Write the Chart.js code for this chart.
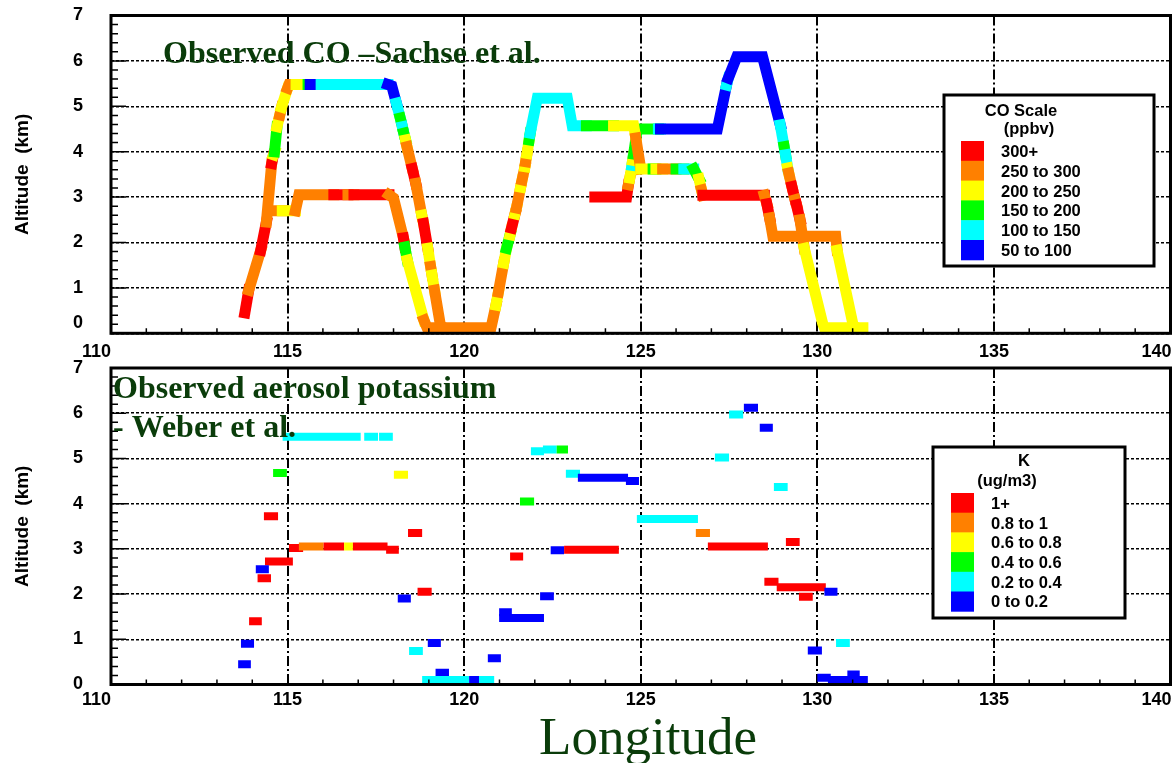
<!DOCTYPE html>
<html>
<head>
<meta charset="utf-8">
<script src="https://cdn.jsdelivr.net/npm/chart.js@4.4.1/dist/chart.umd.min.js"></script>
<style>
  html, body { margin: 0; padding: 0; background: #fff; }
  #wrap { position: relative; width: 1172px; height: 763px; }
  canvas { position: absolute; left: 0; }
</style>
</head>
<body>
<div id="wrap">
  <canvas id="top" width="1172" height="360" style="top:0"></canvas>
  <canvas id="bottom" width="1172" height="403" style="top:360px"></canvas>
</div>
<script>
// colour classes: 0 lowest ... 5 highest
const classColors = ['#0000ff', '#00ffff', '#00ff00', '#ffff00', '#ff8000', '#ff0000'];
const coLegend = ['300+', '250 to 300', '200 to 250', '150 to 200', '100 to 150', '50 to 100'];
const kLegend = ['1+', '0.8 to 1', '0.6 to 0.8', '0.4 to 0.6', '0.2 to 0.4', '0 to 0.2'];
const xTicks = [110, 115, 120, 125, 130, 135, 140];
const yTicks = [0, 1, 2, 3, 4, 5, 6, 7];

// CO flight track, leg 1 (class = colour of segment starting at that vertex)
const leg1Lon = [113.79, 113.90, 114.24, 114.40, 114.55, 114.60, 114.63, 114.70, 114.78, 114.83, 115.00, 115.04,
  115.24, 115.58, 115.64, 115.95, 117.84, 117.95, 118.08, 118.19, 118.25, 118.29, 118.34, 118.38, 118.53, 118.63,
  118.80, 118.85, 118.97, 119.05, 119.09, 119.16, 119.34, 120.76, 120.90, 120.97, 121.12, 121.20, 121.30, 121.34,
  121.44, 121.48, 121.60, 121.64, 121.72, 121.74, 121.78, 121.84, 121.87, 122.07, 122.92, 123.06, 123.46, 124.23,
  124.80, 124.86, 125.00, 125.35, 125.43, 125.62, 126.00, 126.22, 126.50, 126.65, 126.72, 126.76, 128.50, 128.57,
  128.65, 128.74, 130.52, 130.56, 131.03, 131.29];
const leg1Alt = [0.45, 0.95, 1.83, 2.45, 3.74, 3.93, 4.00, 4.55, 4.81, 4.98, 5.40, 5.48,
  5.48, 5.48, 5.48, 5.48, 5.48, 5.45, 5.07, 4.74, 4.55, 4.41, 4.26, 4.11, 3.63, 3.30,
  2.60, 2.42, 1.87, 1.47, 1.28, 0.95, 0.12, 0.12, 0.62, 0.91, 1.55, 1.87, 2.17, 2.32,
  2.63, 2.76, 3.22, 3.38, 3.67, 3.78, 3.96, 4.26, 4.41, 5.18, 5.18, 4.57, 4.57, 4.57,
  4.57, 4.30, 3.62, 3.62, 3.62, 3.62, 3.62, 3.62, 3.62, 3.40, 3.16, 3.04, 3.04, 2.85,
  2.54, 2.14, 2.14, 1.83, 0.12, 0.12];
const leg1Co = [5, 4, 5, 4, 5, 3, 2, 3, 4, 3, 4, 4,
  3, 2, 0, 1, 0, 0, 1, 2, 1, 2, 3, 4, 5, 4,
  3, 5, 3, 4, 3, 4, 4, 4, 3, 4, 3, 2, 3, 5,
  3, 4, 3, 4, 3, 4, 3, 2, 1, 1, 1, 1, 2, 3,
  3, 4, 3, 2, 3, 4, 2, 1, 2, 3, 4, 5, 4, 5,
  4, 4, 4, 3, 3, 3];

// leg 2: 2.7 / 3.05 km level and descent to the surface
const leg2Lon = [114.50, 114.85, 115.22, 115.32, 116.31, 116.71, 116.88, 117.87, 118.00, 118.28, 118.32, 118.39, 118.86, 118.95, 119.34];
const leg2Alt = [2.70, 2.70, 2.70, 3.05, 3.05, 3.05, 3.05, 3.05, 2.98, 2.10, 1.90, 1.61, 0.29, 0.12, 0.12];
const leg2Co = [4, 3, 4, 4, 5, 4, 5, 4, 4, 5, 2, 3, 4, 4, 4];

// leg 3: 3 km level, 4.5 km level, climb to 6.1 km and descent
const leg3Lon = [123.70, 124.60, 124.65, 124.69, 124.75, 124.77, 124.80, 124.90, 125.50, 125.56, 127.17, 127.43, 127.48,
  127.72, 128.45, 128.95, 129.06, 129.10, 129.16, 129.19, 129.28, 129.37, 129.41, 129.51, 129.63, 130.15, 130.20, 131.03];
const leg3Alt = [3.00, 3.00, 3.27, 3.42, 3.70, 3.81, 3.95, 4.50, 4.50, 4.50, 4.50, 5.47, 5.62,
  6.09, 6.09, 4.59, 4.11, 3.93, 3.64, 3.53, 3.23, 2.94, 2.83, 2.50, 1.87, 0.22, 0.12, 0.12];
const leg3Co = [5, 5, 4, 3, 1, 3, 2, 2, 1, 0, 0, 1, 0,
  0, 0, 1, 2, 1, 3, 4, 5, 4, 5, 4, 3, 3, 3, 3];

// aerosol potassium samples: longitude start / end, altitude, class
const kLon0 = [114.86, 117.17, 117.59, 114.59, 118.01, 114.33, 118.41, 115.04, 115.32, 116.02, 116.60, 116.85, 117.79,
  114.36, 114.10, 114.15, 118.68, 118.12, 113.91, 113.68, 113.60, 118.97, 118.44, 119.19, 118.81, 120.14, 120.42,
  120.67, 120.99, 120.99, 122.15, 121.89, 122.23, 122.62, 122.88, 123.22, 124.58, 121.58, 124.89, 126.56, 126.90,
  129.11, 121.30, 122.45, 122.83, 127.50, 127.92, 128.37, 127.10, 128.77, 128.50, 128.85, 129.48, 130.20, 130.53,
  129.73, 130.00, 130.30, 130.85];
const kLon1 = [117.07, 117.56, 117.98, 114.98, 118.41, 114.73, 118.81, 115.44, 116.02, 116.60, 116.85, 117.83, 118.15,
  115.15, 114.47, 114.53, 119.08, 118.49, 114.27, 114.05, 113.96, 119.34, 118.83, 119.57, 120.14, 120.42, 120.85,
  121.04, 121.35, 122.26, 122.54, 122.26, 122.62, 122.94, 123.28, 124.64, 124.95, 121.98, 126.62, 126.96, 128.60,
  129.50, 121.67, 122.83, 124.38, 127.90, 128.32, 128.74, 127.50, 129.16, 128.90, 130.24, 129.87, 130.57, 130.92,
  130.13, 130.38, 131.43, 131.20];
const kAlt = [5.48, 5.48, 5.48, 4.68, 4.64, 3.72, 3.35, 3.02, 3.05, 3.05, 3.05, 3.05, 2.98,
  2.72, 2.55, 2.35, 2.05, 1.90, 1.40, 0.90, 0.45, 0.92, 0.74, 0.26, 0.10, 0.10, 0.10,
  0.58, 1.60, 1.47, 1.95, 5.16, 5.20, 5.20, 4.66, 4.57, 4.50, 4.05, 3.66, 3.35, 3.05,
  3.15, 2.83, 2.97, 2.98, 5.97, 6.12, 5.68, 5.02, 4.37, 2.27, 2.15, 1.94, 2.05, 0.92,
  0.75, 0.15, 0.10, 0.22];
const kCls = [1, 1, 1, 2, 3, 5, 5, 5, 4, 5, 3, 5, 5,
  5, 0, 5, 5, 0, 5, 0, 0, 0, 1, 0, 1, 0, 1,
  0, 0, 0, 0, 1, 1, 2, 1, 0, 0, 2, 1, 4, 5,
  5, 5, 0, 5, 1, 0, 0, 1, 1, 5, 5, 5, 0, 1,
  0, 0, 0, 0];

const titleGreen = '#0a3c0a';
const sansBold = (s) => 'bold ' + s + 'px "Liberation Sans", Arial, sans-serif';
const serifBold = (s) => 'bold ' + s + 'px "Liberation Serif", "Times New Roman", serif';

function legDataset(lons, alts, cls) {
  return {
    data: lons.map((x, i) => ({ x: x, y: alts[i] })),
    borderColor: classColors[cls[0]],
    borderWidth: 11,
    borderCapStyle: 'square',
    borderJoinStyle: 'miter',
    pointRadius: 0,
    tension: 0,
    segment: { borderColor: c => classColors[cls[c.p0DataIndex]] }
  };
}

function kDataset() {
  const data = [];
  const segCls = [];
  kLon0.forEach((x0, i) => {
    data.push({ x: x0, y: kAlt[i] }, { x: kLon1[i], y: kAlt[i] }, { x: kLon1[i], y: null });
    segCls.push(kCls[i], kCls[i], kCls[i]);
  });
  return {
    data: data,
    borderColor: classColors[kCls[0]],
    borderWidth: 8,
    borderCapStyle: 'butt',
    pointRadius: 0,
    spanGaps: false,
    segment: { borderColor: c => classColors[segCls[c.p0DataIndex]] }
  };
}

function makeScales(xAxisHeight) {
  return {
    x: {
      type: 'linear', min: 110, max: 140,
      ticks: { display: false, stepSize: 5 },
      grid: { color: '#000', lineWidth: 2, drawTicks: false },
      border: { display: false, dash: [10, 3, 2, 3] },
      afterFit: s => { s.height = xAxisHeight; }
    },
    y: {
      type: 'linear', min: 0, max: 7,
      ticks: { display: false, stepSize: 1 },
      grid: { color: '#000', lineWidth: 1.5, drawTicks: false },
      border: { display: false, dash: [3, 2] },
      title: {
        display: true, text: 'Altitude  (km)', color: '#000',
        font: { family: '"Liberation Sans", Arial, sans-serif', size: 19, weight: 'bold' },
        padding: { top: 11, bottom: 0 }
      },
      afterFit: s => { s.width = 111; }
    }
  };
}

// frame, minor ticks, tick labels, panel titles and colour legends
const decor = {
  id: 'decor',
  afterDraw(chart, args, o) {
    const { ctx, chartArea: a, scales: { x, y } } = chart;
    ctx.save();
    ctx.strokeStyle = '#000';
    ctx.lineWidth = 1.5;
    ctx.beginPath();
    for (let i = 0; i <= 35; i++) {
      const py = y.getPixelForValue(i / 5);
      ctx.moveTo(a.left, py);
      ctx.lineTo(a.left + (i % 5 === 0 ? 15 : 7), py);
    }
    for (let v = 111; v < 140; v++) {
      if (v % 5 === 0) continue;
      const px = x.getPixelForValue(v);
      ctx.moveTo(px, a.bottom);
      ctx.lineTo(px, a.bottom - 5);
    }
    ctx.stroke();

    ctx.lineWidth = 3;
    ctx.strokeRect(a.left, a.top, a.right - a.left, a.bottom - a.top);

    // tick labels
    ctx.fillStyle = '#000';
    ctx.font = sansBold(18);
    ctx.textBaseline = 'middle';
    ctx.textAlign = 'right';
    yTicks.forEach(v => {
      let py = y.getPixelForValue(v);
      if (v === 0 && o.raiseZero) py -= 10;
      ctx.fillText(String(v), 83, py);
    });
    xTicks.forEach((v, i) => {
      const px = x.getPixelForValue(v);
      const last = i === xTicks.length - 1;
      ctx.textAlign = (i === 0 || last) ? 'right' : 'center';
      ctx.fillText(String(v), px + (last ? 1 : 0), o.xLabelY);
    });

    // panel title
    ctx.fillStyle = titleGreen;
    ctx.font = serifBold(32);
    ctx.textAlign = 'left';
    ctx.textBaseline = 'alphabetic';
    o.title.forEach(t => ctx.fillText(t[0], t[1], t[2]));
    if (o.axisTitle) {
      ctx.font = '53px "Liberation Serif", "Times New Roman", serif';
      ctx.textAlign = 'center';
      ctx.fillText(o.axisTitle, 648, 394);
    }

    // legend box
    const L = o.legend;
    ctx.fillStyle = '#fff';
    ctx.fillRect(L.x0, L.y0, L.x1 - L.x0, L.y1 - L.y0);
    ctx.lineWidth = 3;
    ctx.strokeStyle = '#000';
    ctx.strokeRect(L.x0, L.y0, L.x1 - L.x0, L.y1 - L.y0);
    ctx.fillStyle = '#000';
    ctx.font = sansBold(16.5);
    ctx.textAlign = 'center';
    ctx.fillText(L.head[0][0], L.head[0][1], L.head[0][2]);
    ctx.fillText(L.head[1][0], L.head[1][1], L.head[1][2]);
    ctx.textAlign = 'left';
    L.labels.forEach((lab, i) => {
      const top = L.rowTop + i * L.rowH;
      ctx.fillStyle = classColors[5 - i];
      ctx.fillRect(L.swX, top, 23, L.rowH + 0.5);
      ctx.fillStyle = '#000';
      ctx.fillText(lab, L.textX, top + L.rowH / 2 + 6);
    });
    ctx.restore();
  }
};

const common = {
  responsive: false,
  animation: false,
  events: [],
  plugins: { legend: { display: false }, tooltip: { enabled: false } }
};

new Chart(document.getElementById('top'), {
  type: 'line',
  data: { datasets: [legDataset(leg1Lon, leg1Alt, leg1Co), legDataset(leg2Lon, leg2Alt, leg2Co), legDataset(leg3Lon, leg3Alt, leg3Co)] },
  options: {
    ...common,
    layout: { padding: { top: 15.5, right: 1.5, left: 0, bottom: 0 } },
    scales: makeScales(26.7),
    plugins: {
      ...common.plugins,
      decor: {
        raiseZero: true,
        xLabelY: 352,
        title: [['Observed CO \u2013Sachse et al.', 163, 63]],
        legend: {
          x0: 944, y0: 95, x1: 1154, y1: 266,
          head: [['CO Scale', 1021, 116], ['(ppbv)', 1029, 134]],
          labels: coLegend, swX: 961, rowTop: 141, rowH: 19.8, textX: 1001
        }
      }
    }
  },
  plugins: [decor]
});

new Chart(document.getElementById('bottom'), {
  type: 'line',
  data: { datasets: [kDataset()] },
  options: {
    ...common,
    layout: { padding: { top: 8, right: 1.5, left: 0, bottom: 0 } },
    scales: makeScales(78.5),
    plugins: {
      ...common.plugins,
      decor: {
        raiseZero: false,
        xLabelY: 340,
        title: [['Observed aerosol potassium', 113, 38], ['- Weber et al.', 113, 77]],
        axisTitle: 'Longitude',
        legend: {
          x0: 933, y0: 87, x1: 1125, y1: 258,
          head: [['K', 1024, 106], ['(ug/m3)', 1007, 126]],
          labels: kLegend, swX: 951, rowTop: 133, rowH: 19.7, textX: 991
        }
      }
    }
  },
  plugins: [decor]
});
</script>
</body>
</html>
